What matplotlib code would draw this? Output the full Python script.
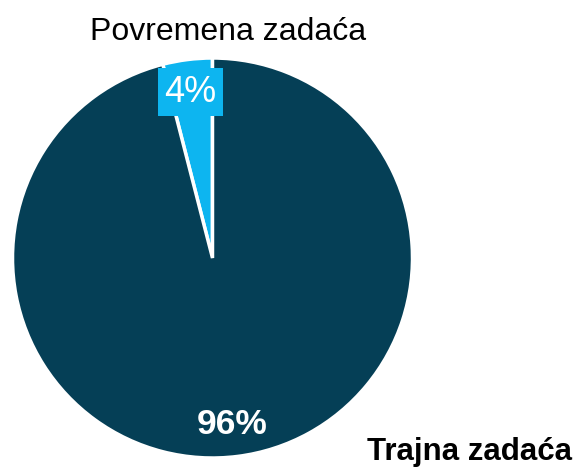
import matplotlib
matplotlib.use("Agg")
import matplotlib.pyplot as plt

# data
labels = ["Povremena zadaća", "Trajna zadaća"]
shares = [4, 96]
pct_labels = ["4%", "96%"]
colors = ["#0DB5F0", "#053F56"]

font = "Liberation Sans"

fig = plt.figure(figsize=(5.81, 4.74), dpi=100)
ax = fig.add_axes([12.5 / 581, 16 / 474, 400 / 581, 400 / 474])

wedges, _ = ax.pie(shares, colors=colors, startangle=90, counterclock=True,
                   wedgeprops=dict(edgecolor="white", linewidth=2.5))
ax.set_xlim(-1, 1)
ax.set_ylim(-1, 1)
ax.set_aspect("equal")
ax.axis("off")

# small slice label with coloured box
ax.text(-0.11, 0.83, pct_labels[0], color="white", fontsize=26, family=font,
        ha="center", va="center",
        bbox=dict(boxstyle="square,pad=0.18", facecolor=colors[0], edgecolor="none"))
ax.text(0.08, 1.13, labels[0], color="black", fontsize=23, family=font,
        ha="center", va="center", clip_on=False)

# big slice labels
ax.text(0.1, -0.83, pct_labels[1], color="white", fontsize=25.5, family=font,
        fontweight="bold", ha="center", va="center")
ax.text(1.285, -0.97, labels[1], color="black", fontsize=22.5, family=font,
        fontweight="bold", ha="center", va="center", clip_on=False)

fig.savefig("out.png", dpi=100)
